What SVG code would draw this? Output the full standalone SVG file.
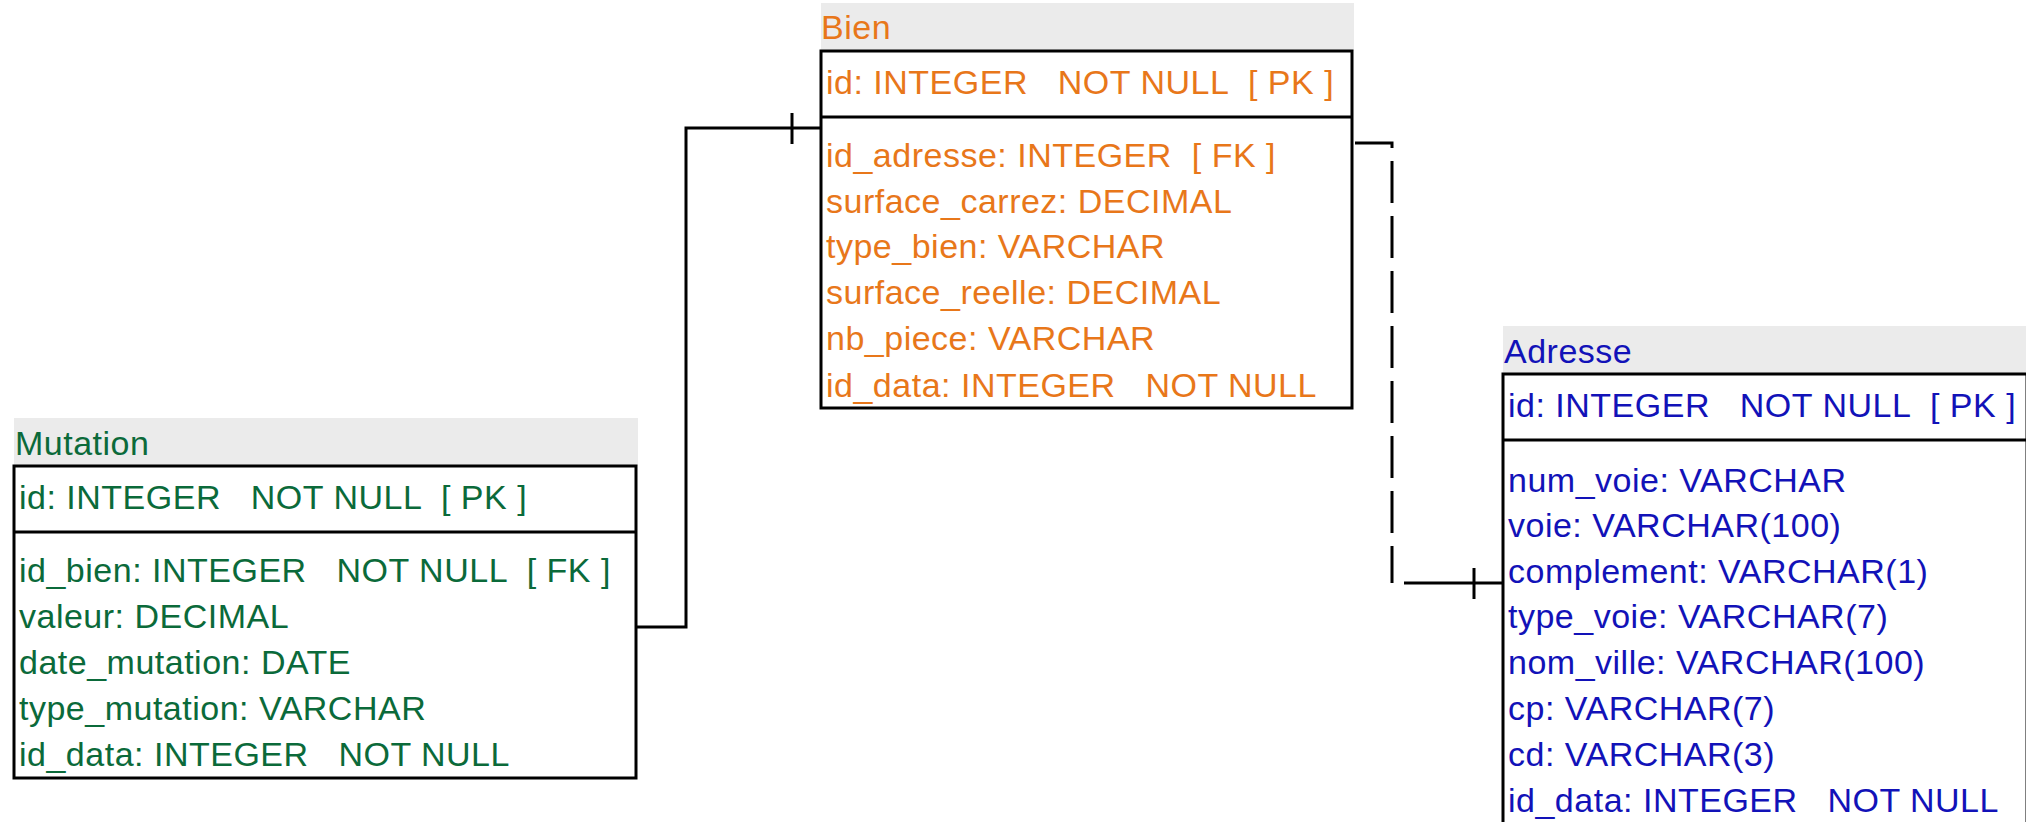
<svg xmlns="http://www.w3.org/2000/svg" width="2026" height="822" viewBox="0 0 2026 822" xml:space="preserve">
<style>
text{font-family:"Liberation Sans",Arial,sans-serif;font-size:34px;letter-spacing:0.5px;white-space:pre}
.hd{fill:#ebebeb;stroke:none}
.box{fill:#ffffff;stroke:#000;stroke-width:3}
.div{stroke:#000;stroke-width:3}
.bien{fill:#e8771a}
.mut{fill:#0b6a3a}
.adr{fill:#1212b8}
.con{fill:none;stroke:#000;stroke-width:3}
.dash{stroke-dasharray:42 13}
</style>
<rect width="2026" height="822" fill="#ffffff"/>
<g id="connectors">
<path class="con" d="M636,627 H686 V128 H821"/>
<path class="con" d="M792,113 V144"/>
<path class="con dash" d="M1355,143 H1392 V583"/>
<path class="con" d="M1404,583 H1503"/>
<path class="con" d="M1474,568 V599"/>
</g>
<g id="node-bien">
<rect class="hd" x="821" y="3" width="533" height="48"/>
<text class="bien" x="821" y="39">Bien</text>
<rect class="box" x="821" y="51" width="531" height="357"/>
<line class="div" x1="821" y1="117" x2="1352" y2="117"/>
<text class="bien" x="826" y="94">id: INTEGER   NOT NULL  [ PK ]</text>
<text class="bien" x="826" y="167">id_adresse: INTEGER  [ FK ]</text>
<text class="bien" x="826" y="213">surface_carrez: DECIMAL</text>
<text class="bien" x="826" y="258">type_bien: VARCHAR</text>
<text class="bien" x="826" y="304">surface_reelle: DECIMAL</text>
<text class="bien" x="826" y="350">nb_piece: VARCHAR</text>
<text class="bien" x="826" y="397">id_data: INTEGER   NOT NULL</text>
</g>
<g id="node-mutation">
<rect class="hd" x="14" y="418" width="624" height="48"/>
<text class="mut" x="15" y="455">Mutation</text>
<rect class="box" x="14" y="466" width="622" height="312"/>
<line class="div" x1="14" y1="532" x2="636" y2="532"/>
<text class="mut" x="19" y="509">id: INTEGER   NOT NULL  [ PK ]</text>
<text class="mut" x="19" y="582">id_bien: INTEGER   NOT NULL  [ FK ]</text>
<text class="mut" x="19" y="628">valeur: DECIMAL</text>
<text class="mut" x="19" y="674">date_mutation: DATE</text>
<text class="mut" x="19" y="720">type_mutation: VARCHAR</text>
<text class="mut" x="19" y="766">id_data: INTEGER   NOT NULL</text>
</g>
<g id="node-adresse">
<rect class="hd" x="1503" y="326" width="530" height="48"/>
<text class="adr" x="1504" y="363">Adresse</text>
<rect class="box" x="1503" y="374" width="524" height="470"/>
<line class="div" x1="1503" y1="440" x2="2027" y2="440"/>
<text class="adr" x="1508" y="417">id: INTEGER   NOT NULL  [ PK ]</text>
<text class="adr" x="1508" y="492">num_voie: VARCHAR</text>
<text class="adr" x="1508" y="537">voie: VARCHAR(100)</text>
<text class="adr" x="1508" y="583">complement: VARCHAR(1)</text>
<text class="adr" x="1508" y="628">type_voie: VARCHAR(7)</text>
<text class="adr" x="1508" y="674">nom_ville: VARCHAR(100)</text>
<text class="adr" x="1508" y="720">cp: VARCHAR(7)</text>
<text class="adr" x="1508" y="766">cd: VARCHAR(3)</text>
<text class="adr" x="1508" y="812">id_data: INTEGER   NOT NULL</text>
</g>
</svg>
